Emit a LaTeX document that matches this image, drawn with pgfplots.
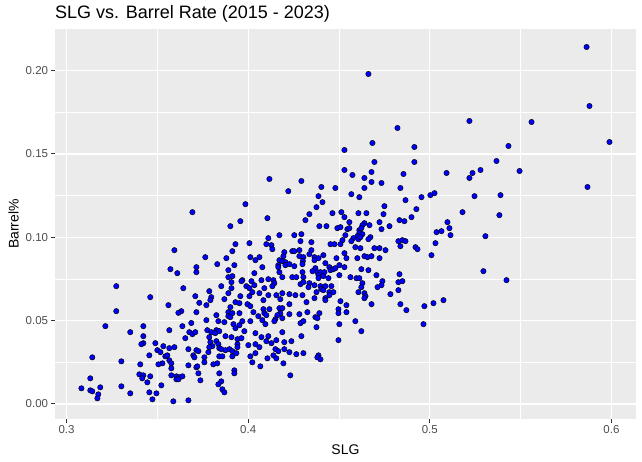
\documentclass[border=0pt]{standalone}
\usepackage{fontspec}
\setmainfont{Liberation Sans}
\usepackage{pgfplots}
\pgfplotsset{compat=1.18}
\usepackage{pgfplotstable}
\definecolor{panelgrey}{HTML}{EBEBEB}
\definecolor{tickgrey}{HTML}{333333}
\definecolor{labgrey}{HTML}{4D4D4D}
\definecolor{ptblue}{HTML}{0000FF}
\pgfplotstableread{
x y
0.3594 0.0923
0.3572 0.0809
0.3610 0.0785
0.3715 0.0821
0.3715 0.0791
0.3274 0.0707
0.3643 0.0695
0.3461 0.0641
0.3709 0.0647
0.3731 0.0607
0.3561 0.0593
0.3632 0.0557
0.3616 0.0547
0.3715 0.0551
0.3274 0.0557
0.3214 0.0467
0.3423 0.0467
0.3351 0.0431
0.3566 0.0443
0.3638 0.0467
0.3687 0.0486
0.3676 0.0431
0.3693 0.0419
0.3709 0.0431
0.3654 0.0395
0.3423 0.0407
0.3423 0.0365
0.3412 0.0359
0.3489 0.0365
0.3533 0.0347
0.3594 0.0341
0.3566 0.0335
0.3500 0.0323
0.3517 0.0311
0.3671 0.0329
0.3715 0.0323
0.3726 0.0317
0.3456 0.0292
0.3544 0.0286
0.3555 0.0292
0.3698 0.0292
0.3704 0.0280
0.3566 0.0262
0.3577 0.0244
0.3528 0.0244
0.3506 0.0238
0.3406 0.0238
0.3302 0.0256
0.3142 0.0280
0.3671 0.0232
0.3715 0.0220
0.3720 0.0226
0.3577 0.0214
0.3726 0.0184
0.3401 0.0178
0.3423 0.0172
0.3461 0.0166
0.3417 0.0154
0.3577 0.0172
0.3605 0.0166
0.3621 0.0160
0.3638 0.0166
0.3605 0.0148
0.3616 0.0148
0.3445 0.0130
0.3737 0.0142
0.3131 0.0154
0.3082 0.0094
0.3131 0.0082
0.3142 0.0076
0.3186 0.0100
0.3175 0.0058
0.3170 0.0034
0.3302 0.0106
0.3351 0.0064
0.3522 0.0112
0.3456 0.0070
0.3495 0.0064
0.3473 0.0028
0.3588 0.0016
0.3671 0.0022
0.3693 0.1151
0.4117 0.1350
0.4293 0.1338
0.4221 0.1277
0.3985 0.1199
0.3957 0.1097
0.3902 0.1067
0.4106 0.1115
0.4172 0.1013
0.4254 0.1013
0.4293 0.1019
0.4111 0.0995
0.4007 0.0965
0.3930 0.0959
0.4100 0.0959
0.4128 0.0953
0.4133 0.0929
0.4288 0.0977
0.3913 0.0917
0.4199 0.0911
0.4243 0.0917
0.4254 0.0917
0.4282 0.0923
0.3764 0.0881
0.3880 0.0875
0.4012 0.0881
0.4040 0.0863
0.4062 0.0881
0.4194 0.0887
0.4172 0.0863
0.4188 0.0857
0.4205 0.0851
0.4282 0.0887
0.4304 0.0881
0.4301 0.0857
0.3830 0.0839
0.3924 0.0833
0.4078 0.0821
0.4166 0.0833
0.4166 0.0821
0.4205 0.0833
0.4227 0.0839
0.4254 0.0827
0.4299 0.0839
0.3891 0.0803
0.4172 0.0791
0.4034 0.0785
0.4299 0.0791
0.3891 0.0761
0.3913 0.0767
0.4188 0.0761
0.4243 0.0761
0.4265 0.0761
0.4304 0.0761
0.3968 0.0743
0.4073 0.0743
0.4111 0.0749
0.4139 0.0743
0.3908 0.0731
0.4018 0.0737
0.3963 0.0737
0.4034 0.0713
0.4144 0.0725
0.4133 0.0707
0.4288 0.0719
0.3852 0.0707
0.3908 0.0695
0.3990 0.0707
0.4007 0.0695
0.4089 0.0695
0.3786 0.0677
0.3891 0.0665
0.3957 0.0647
0.3797 0.0641
0.3792 0.0623
0.3770 0.0593
0.3869 0.0629
0.4007 0.0647
0.4023 0.0671
0.4062 0.0665
0.4111 0.0653
0.4155 0.0653
0.4188 0.0665
0.4227 0.0659
0.4260 0.0653
0.4299 0.0653
0.4177 0.0629
0.4084 0.0623
0.3930 0.0611
0.3952 0.0605
0.3996 0.0599
0.4012 0.0587
0.3902 0.0581
0.3825 0.0533
0.3891 0.0551
0.3913 0.0545
0.3952 0.0545
0.3891 0.0527
0.3902 0.0521
0.4029 0.0551
0.4084 0.0569
0.4117 0.0569
0.4089 0.0545
0.4100 0.0533
0.4056 0.0527
0.4172 0.0575
0.4188 0.0575
0.4227 0.0599
0.4177 0.0545
0.4161 0.0533
0.4150 0.0509
0.4188 0.0515
0.4144 0.0497
0.4227 0.0539
0.4282 0.0539
0.4288 0.0485
0.4304 0.0497
0.3770 0.0503
0.3836 0.0497
0.3869 0.0491
0.3919 0.0479
0.3930 0.0455
0.3952 0.0473
0.3968 0.0497
0.4012 0.0497
0.4078 0.0503
0.4095 0.0479
0.3979 0.0437
0.4040 0.0425
0.4188 0.0431
0.4293 0.0407
0.3775 0.0443
0.3797 0.0431
0.3825 0.0443
0.3841 0.0437
0.3819 0.0425
0.3786 0.0401
0.3875 0.0407
0.3908 0.0401
0.3941 0.0389
0.3963 0.0395
0.4073 0.0401
0.4111 0.0407
0.4100 0.0377
0.4128 0.0365
0.4155 0.0383
0.4199 0.0371
0.4238 0.0377
0.4001 0.0353
0.4040 0.0359
0.4062 0.0341
0.3941 0.0359
0.3792 0.0371
0.3825 0.0377
0.3836 0.0359
0.3803 0.0347
0.3786 0.0341
0.3841 0.0335
0.3875 0.0323
0.3897 0.0329
0.3913 0.0317
0.3935 0.0305
0.3941 0.0341
0.3852 0.0329
0.3781 0.0311
0.3759 0.0280
0.3841 0.0286
0.3858 0.0286
0.3913 0.0286
0.4012 0.0286
0.4040 0.0305
0.4150 0.0329
0.4166 0.0317
0.4199 0.0329
0.4227 0.0311
0.4265 0.0299
0.4304 0.0305
0.4106 0.0274
0.4139 0.0292
0.4155 0.0274
0.4194 0.0244
0.4023 0.0250
0.4067 0.0226
0.3759 0.0250
0.3808 0.0238
0.3830 0.0244
0.3841 0.0184
0.3924 0.0202
0.3924 0.0184
0.4232 0.0172
0.3852 0.0136
0.3836 0.0118
0.3858 0.0088
0.3869 0.0070
0.4822 0.1656
0.4684 0.1566
0.4915 0.1542
0.4530 0.1524
0.4695 0.1452
0.4915 0.1452
0.4530 0.1404
0.4574 0.1374
0.4679 0.1392
0.4855 0.1380
0.4640 0.1356
0.4679 0.1332
0.4734 0.1326
0.4403 0.1302
0.4480 0.1296
0.4640 0.1296
0.4838 0.1296
0.4568 0.1259
0.4612 0.1241
0.4387 0.1247
0.4409 0.1211
0.4376 0.1181
0.4866 0.1223
0.4750 0.1187
0.4926 0.1169
0.4337 0.1139
0.4315 0.1103
0.4464 0.1145
0.4513 0.1151
0.4530 0.1121
0.4607 0.1145
0.4651 0.1145
0.4745 0.1139
0.4557 0.1091
0.4640 0.1085
0.4629 0.1073
0.4668 0.1073
0.4723 0.1091
0.4833 0.1103
0.4860 0.1097
0.4899 0.1121
0.4392 0.1067
0.4431 0.1067
0.4491 0.1055
0.4508 0.1061
0.4546 0.1049
0.4557 0.1055
0.4612 0.1043
0.4623 0.1055
0.4734 0.1049
0.4778 0.1067
0.4535 0.1013
0.4612 0.1025
0.4629 0.1019
0.4601 0.1007
0.4579 0.0995
0.4607 0.0989
0.4618 0.1001
0.4673 0.1001
0.4662 0.0989
0.4519 0.0983
0.4568 0.0977
0.4348 0.0971
0.4453 0.0959
0.4475 0.0959
0.4508 0.0959
0.4590 0.0941
0.4618 0.0935
0.4695 0.0935
0.4723 0.0935
0.4756 0.0923
0.4827 0.0977
0.4849 0.0983
0.4866 0.0977
0.4838 0.0947
0.4921 0.0941
0.4932 0.0929
0.4348 0.0923
0.4337 0.0899
0.4530 0.0905
0.4414 0.0893
0.4365 0.0881
0.4387 0.0875
0.4486 0.0875
0.4541 0.0875
0.4601 0.0875
0.4640 0.0887
0.4657 0.0881
0.4679 0.0887
0.4723 0.0875
0.4365 0.0863
0.4425 0.0845
0.4502 0.0833
0.4530 0.0821
0.4447 0.0821
0.4453 0.0803
0.4469 0.0809
0.4480 0.0815
0.4370 0.0815
0.4354 0.0797
0.4381 0.0791
0.4398 0.0791
0.4420 0.0791
0.4387 0.0773
0.4414 0.0767
0.4387 0.0755
0.4442 0.0755
0.4502 0.0773
0.4563 0.0761
0.4596 0.0755
0.4612 0.0755
0.4623 0.0809
0.4662 0.0803
0.4706 0.0773
0.4833 0.0779
0.4739 0.0737
0.4734 0.0713
0.4712 0.0701
0.4827 0.0731
0.4849 0.0737
0.4827 0.0683
0.4629 0.0725
0.4623 0.0701
0.4607 0.0671
0.4640 0.0665
0.4646 0.0647
0.4640 0.0635
0.4783 0.0659
0.4679 0.0599
0.4838 0.0599
0.4871 0.0563
0.4304 0.0731
0.4337 0.0725
0.4365 0.0713
0.4332 0.0701
0.4398 0.0707
0.4425 0.0707
0.4458 0.0707
0.4403 0.0689
0.4414 0.0683
0.4376 0.0671
0.4447 0.0671
0.4469 0.0671
0.4447 0.0653
0.4365 0.0635
0.4425 0.0635
0.4425 0.0623
0.4508 0.0617
0.4541 0.0593
0.4497 0.0569
0.4497 0.0545
0.4541 0.0551
0.4321 0.0611
0.4326 0.0551
0.4392 0.0545
0.4370 0.0521
0.4381 0.0515
0.4376 0.0461
0.4502 0.0479
0.4590 0.0497
0.4623 0.0437
0.4497 0.0383
0.4387 0.0292
0.4381 0.0280
0.4398 0.0268
0.5218 0.1698
0.5560 0.1692
0.5433 0.1548
0.5367 0.1458
0.5494 0.1398
0.5092 0.1386
0.5235 0.1386
0.5279 0.1404
0.5218 0.1356
0.4954 0.1241
0.5003 0.1253
0.5026 0.1265
0.5246 0.1247
0.5389 0.1253
0.5180 0.1151
0.5383 0.1133
0.5097 0.1091
0.5108 0.1055
0.5037 0.1031
0.5064 0.1037
0.5114 0.1013
0.5306 0.1007
0.5031 0.0965
0.5009 0.0893
0.5295 0.0797
0.5422 0.0743
0.4970 0.0587
0.5020 0.0605
0.5075 0.0623
0.4965 0.0479
0.5863 0.2142
0.5879 0.1788
0.5989 0.1572
0.5868 0.1302
0.4662 0.1980
}\slgdata
\begin{document}
\begin{tikzpicture}
\path[use as bounding box] (-55bp,-43bp) rectangle (587bp,419bp);
\begin{axis}[
  at={(0,0)}, anchor=south west,
  scale only axis, width=581bp, height=390bp,
  xmin=0.29367, xmax=0.6135, ymin=-0.009, ymax=0.2250,
  axis background/.style={fill=panelgrey},
  axis x line*=bottom, axis y line*=left,
  axis line style={draw=none},
  xtick={0.3,0.4,0.5,0.6}, xticklabels={0.3,0.4,0.5,0.6},
  ytick={0,0.05,0.1,0.15,0.2}, yticklabels={0.00,0.05,0.10,0.15,0.20},
  minor xtick={0.35,0.45,0.55}, minor ytick={0.025,0.075,0.125,0.175},
  grid=both,
  major grid style={white, line width=1.1bp},
  minor grid style={white, line width=0.55bp},
  tick align=outside, major tick length=3.7bp, minor tick length=0pt,
  tick style={tickgrey, line width=1bp},
  /pgf/number format/assume math mode=true,
  ticklabel style={font=\fontsize{11.5bp}{13bp}\selectfont, text=labgrey},
  xticklabel style={inner sep=0pt, yshift=-3bp},
  yticklabel style={inner sep=0pt, xshift=-3bp},
  clip=false,
]
\addplot[only marks, mark=*, mark size=2.7bp,
  mark options={fill=ptblue, draw=black, line width=0.45bp}]
  table[x=x, y=y] {\slgdata};
\end{axis}
\node[anchor=base west, inner sep=0pt, font=\fontsize{18bp}{21bp}\selectfont] at (0bp,400.7bp) {SLG vs. Barrel Rate (2015 - 2023)};
\node[anchor=base, inner sep=0pt, font=\fontsize{14bp}{17bp}\selectfont] at (290.5bp,-35.5bp) {SLG};
\node[anchor=base, rotate=90, inner sep=0pt, font=\fontsize{14bp}{17bp}\selectfont] at (-36.5bp,195bp) {Barrel\%};
\end{tikzpicture}
\end{document}
